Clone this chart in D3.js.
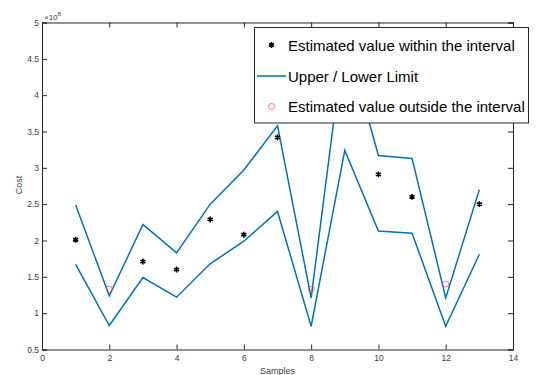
<!DOCTYPE html>
<html><head><meta charset="utf-8">
<script src="https://cdn.jsdelivr.net/npm/d3@7"></script>
<style>body{margin:0;background:#fff}svg{display:block}text{font-family:"Liberation Sans",Arial,sans-serif}</style>
</head><body><svg id="c" width="536" height="375"></svg>
<script>
const samples = [1,2,3,4,5,6,7,8,9,10,11,12,13];
const upper = [2.49,1.24,2.22,1.83,2.50,2.97,3.58,1.21,4.83,3.17,3.13,1.21,2.70];
const lower = [1.67,0.83,1.49,1.22,1.68,1.99,2.40,0.82,3.24,2.13,2.10,0.82,1.81];
const insideX = [1,3,4,5,6,7,10,11,13];
const insideY = [2.01,1.71,1.60,2.29,2.08,3.42,2.91,2.60,2.50];
const outsideX = [2,8,12];
const outsideY = [1.33,1.33,1.40];
const xTicks = [0,2,4,6,8,10,12,14];
const yTicks = [0.5,1,1.5,2,2.5,3,3.5,4,4.5,5];
const legendLabels = ["Estimated value within the interval","Upper / Lower Limit","Estimated value outside the interval"];

(function(){
const svg = d3.select("#c");
const L=42, R=513, T=22.5, B=349.5;
const x = d3.scaleLinear().domain([0,14]).range([L,R]);
const y = d3.scaleLinear().domain([0.5,5]).range([B,T]);
const axc = "#262626", txc = "#404040";

const line = d3.line().x((d,i)=>x(samples[i])).y(d=>y(d));
const g = svg.append("g");
[upper,lower].forEach(s=>{
  g.append("path").attr("d",line(s)).attr("fill","none").attr("stroke","#0072BD").attr("stroke-width",1.5).attr("stroke-linejoin","miter");
});
const ast = d3.symbol().type(d3.symbolAsterisk).size(24);
g.selectAll(".a").data(insideX).enter().append("path")
  .attr("d",ast).attr("transform",(d,i)=>`translate(${x(d)},${y(insideY[i])})`)
  .attr("fill","none").attr("stroke","#000").attr("stroke-width",1.6);
g.selectAll(".o").data(outsideX).enter().append("circle")
  .attr("cx",d=>x(d)).attr("cy",(d,i)=>y(outsideY[i])).attr("r",3)
  .attr("fill","none").attr("stroke","#ff4040").attr("stroke-width",0.7);

const fs = 8.5;
const axB = svg.append("g").attr("transform",`translate(0,${B})`)
  .call(d3.axisBottom(x).tickValues(xTicks).tickSize(-5).tickPadding(5).tickFormat(d3.format("d")));
const axT = svg.append("g").attr("transform",`translate(0,${T})`)
  .call(d3.axisTop(x).tickValues(xTicks).tickSize(-5).tickFormat(""));
const axL = svg.append("g").attr("transform",`translate(${L},0)`)
  .call(d3.axisLeft(y).tickValues(yTicks).tickSize(-5).tickPadding(3).tickFormat(d=>String(d)));
const axR = svg.append("g").attr("transform",`translate(${R},0)`)
  .call(d3.axisRight(y).tickValues(yTicks).tickSize(-5).tickFormat(""));
[axB,axT,axL,axR].forEach(a=>{
  a.selectAll("path.domain").attr("stroke",axc).attr("stroke-width",1);
  a.selectAll(".tick line").attr("stroke",axc);
  a.selectAll("text").attr("fill",txc).style("font-size",fs+"px").style("font-family","'Liberation Sans',Arial,sans-serif");
});
const ex = svg.append("text").attr("x",L+2).attr("y",19.5).attr("fill",txc).style("font-size","8px");
ex.append("tspan").text("\u00d710");
ex.append("tspan").attr("dy",-3.5).style("font-size","6px").text("8");

svg.append("text").attr("x",(L+R)/2).attr("y",374).attr("text-anchor","middle").attr("fill",txc).style("font-size","9px").text("Samples");
svg.append("text").attr("transform",`translate(22,185) rotate(-90)`).attr("text-anchor","middle").attr("fill",txc).style("font-size","9px").text("Cost");

const lg = svg.append("g");
lg.append("rect").attr("x",254.5).attr("y",27.5).attr("width",274).attr("height",95.5)
  .attr("fill","#fff").attr("stroke",axc).attr("stroke-width",1);
const markY = [45,76,106.5];
const baseY = [50.7,81.7,112.3];
lg.append("path").attr("d",ast).attr("transform",`translate(271.5,${markY[0]})`).attr("fill","none").attr("stroke","#000").attr("stroke-width",1.6);
lg.append("line").attr("x1",257).attr("x2",286).attr("y1",markY[1]).attr("y2",markY[1]).attr("stroke","#0072BD").attr("stroke-width",1.5);
lg.append("circle").attr("cx",271.5).attr("cy",markY[2]).attr("r",3).attr("fill","none").attr("stroke","#ff4040").attr("stroke-width",0.7);
legendLabels.forEach((t,i)=>{
  lg.append("text").attr("x",288).attr("y",baseY[i]).attr("fill","#000").style("font-size","15px").text(t);
});
})();
</script></body></html>
